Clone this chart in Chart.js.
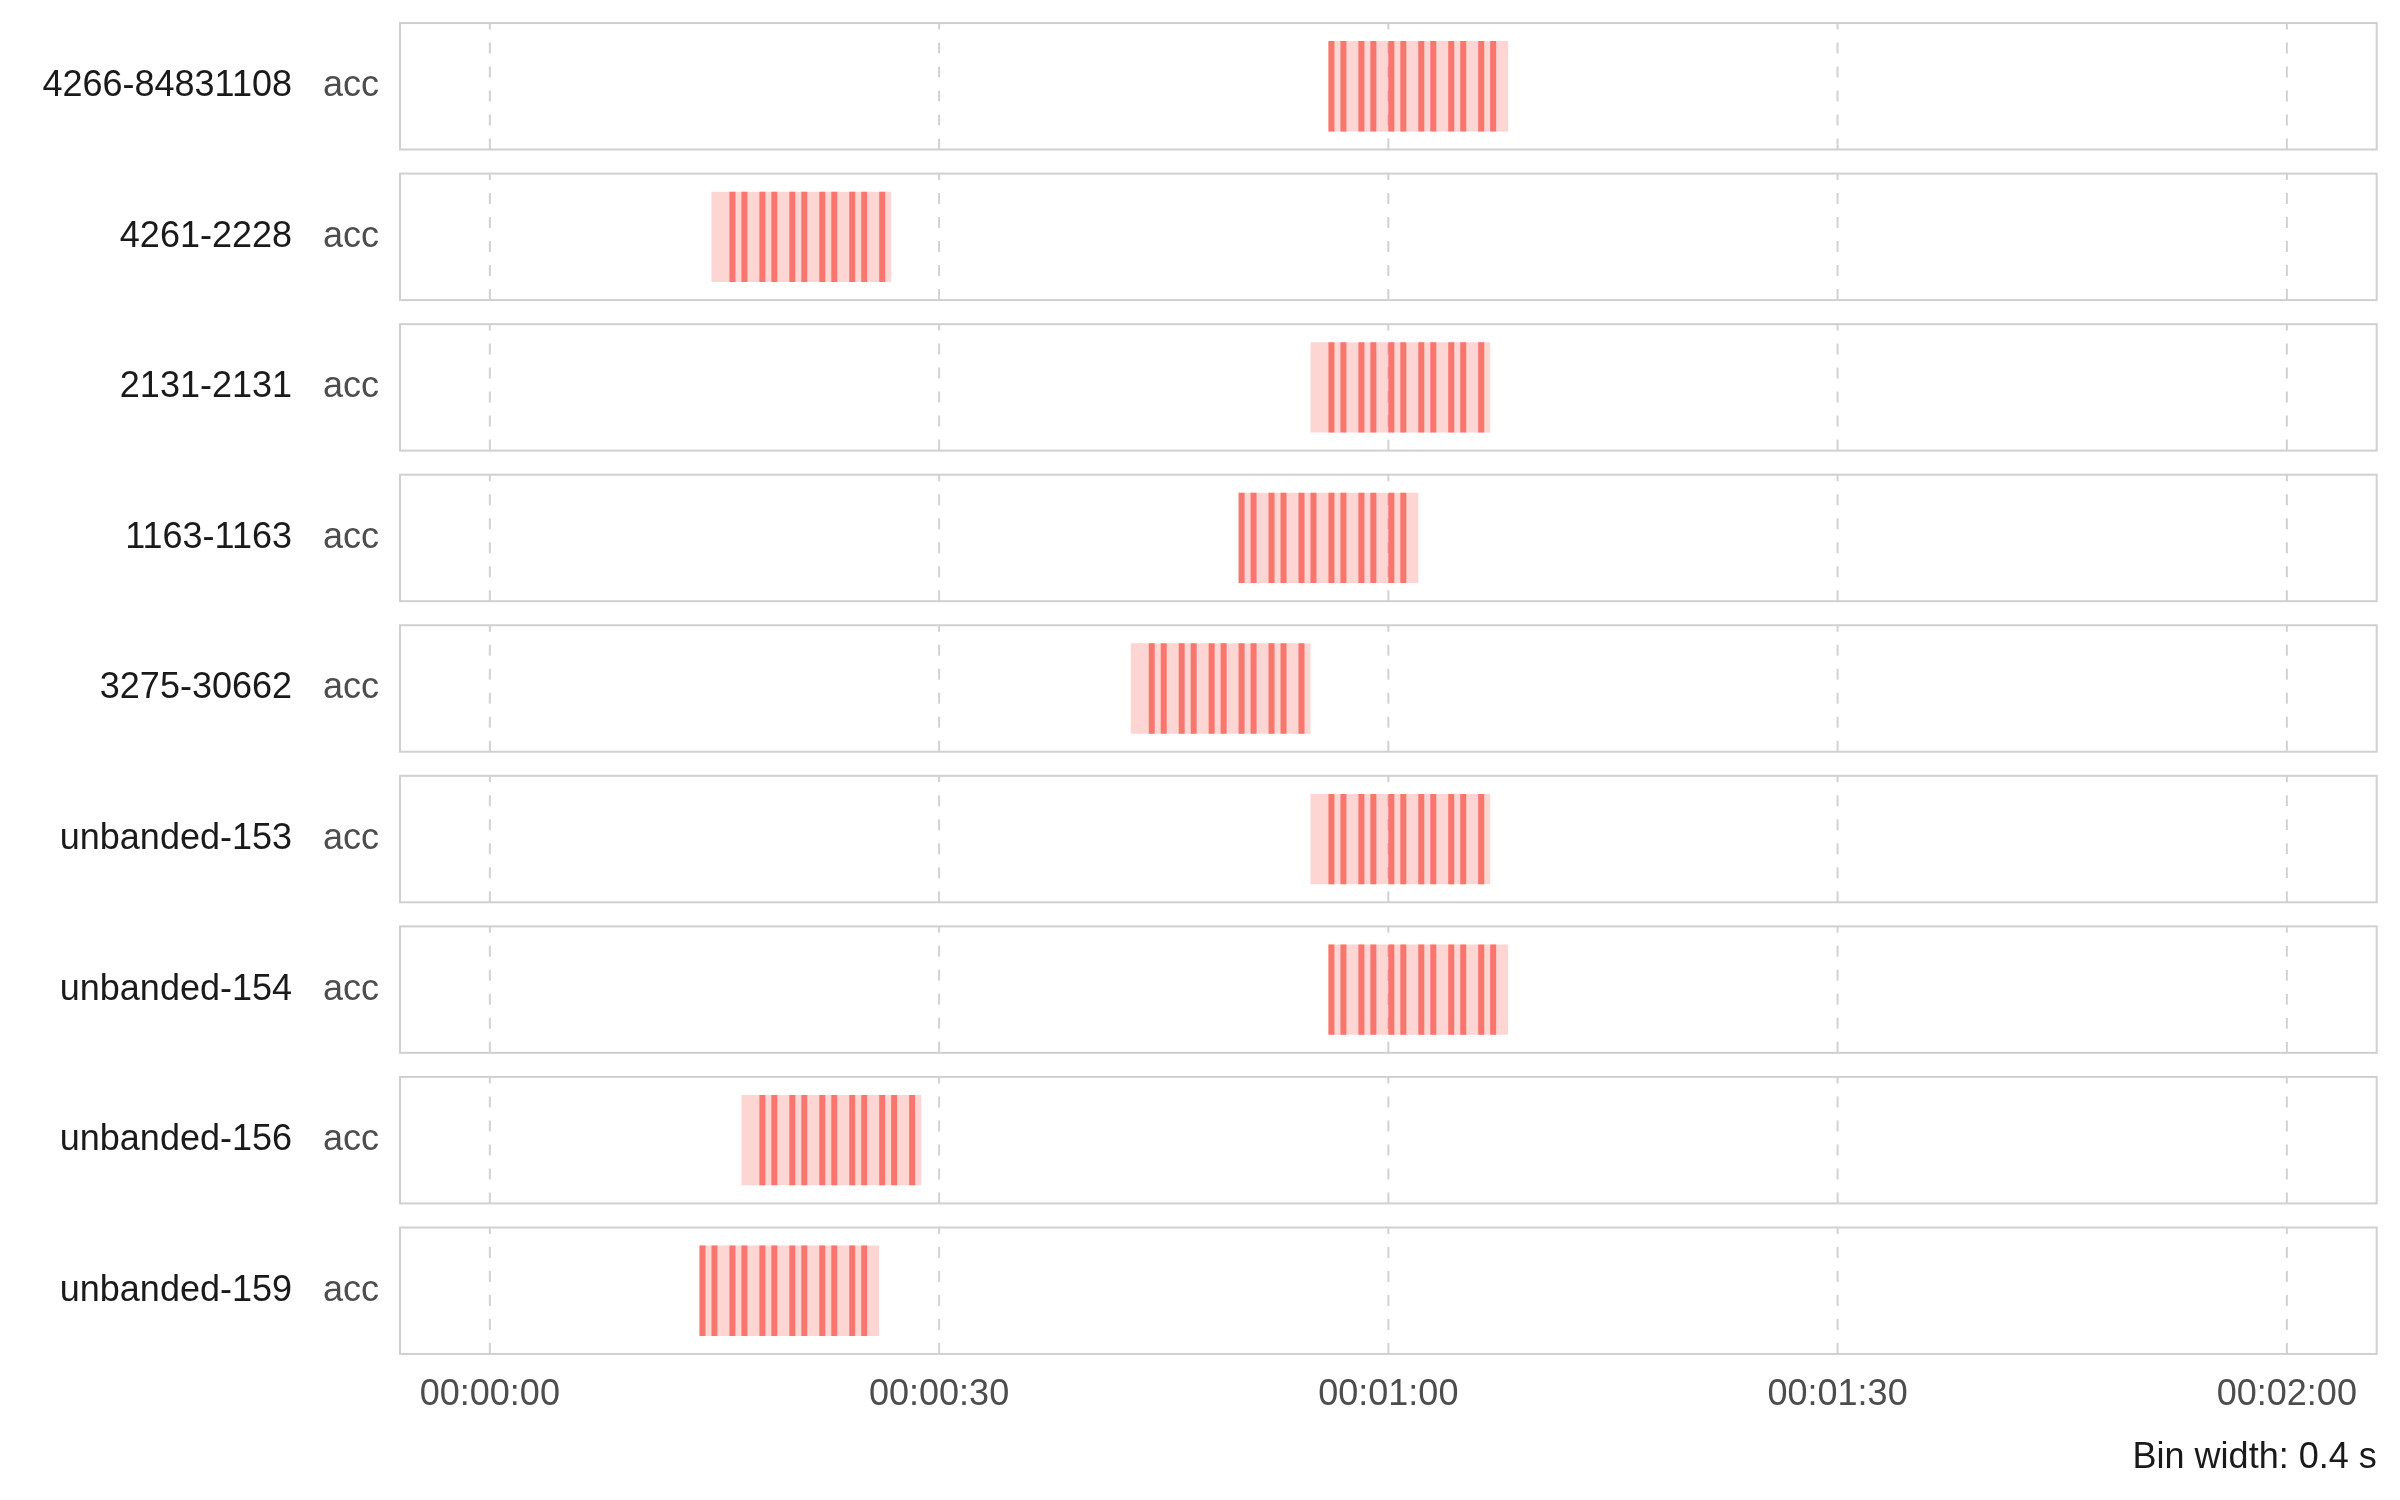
<!DOCTYPE html>
<html>
<head>
<meta charset="utf-8">
<script src="https://cdn.jsdelivr.net/npm/chart.js@4.4.1/dist/chart.umd.min.js"></script>
<style>
  body { margin: 0; background: #ffffff; }
  #wrap { width: 2400px; height: 1500px; }
</style>
</head>
<body>
<div id="wrap"><canvas id="chartBins"></canvas></div>
<script>
const rowIds = [
  '4266-84831108', '4261-2228', '2131-2131', '1163-1163', '3275-30662',
  'unbanded-153', 'unbanded-154', 'unbanded-156', 'unbanded-159'
];
const sensorLabels = ['acc', 'acc', 'acc', 'acc', 'acc', 'acc', 'acc', 'acc', 'acc'];

// recording window per row, seconds
const windowStart = [56.0, 14.8, 54.8, 50.0, 42.8, 54.8, 56.0, 16.8, 14.0];
const windowEnd = [68.0, 26.8, 66.8, 62.0, 54.8, 66.8, 68.0, 28.8, 26.0];

// start of the dense bins per row, seconds
const denseBins = [
  [56.0, 56.8, 58.0, 58.8, 60.0, 60.8, 62.0, 62.8, 64.0, 64.8, 66.0, 66.8],
  [16.0, 16.8, 18.0, 18.8, 20.0, 20.8, 22.0, 22.8, 24.0, 24.8, 26.0],
  [56.0, 56.8, 58.0, 58.8, 60.0, 60.8, 62.0, 62.8, 64.0, 64.8, 66.0],
  [50.0, 50.8, 52.0, 52.8, 54.0, 54.8, 56.0, 56.8, 58.0, 58.8, 60.0, 60.8],
  [44.0, 44.8, 46.0, 46.8, 48.0, 48.8, 50.0, 50.8, 52.0, 52.8, 54.0],
  [56.0, 56.8, 58.0, 58.8, 60.0, 60.8, 62.0, 62.8, 64.0, 64.8, 66.0],
  [56.0, 56.8, 58.0, 58.8, 60.0, 60.8, 62.0, 62.8, 64.0, 64.8, 66.0, 66.8],
  [18.0, 18.8, 20.0, 20.8, 22.0, 22.8, 24.0, 24.8, 26.0, 26.8, 28.0],
  [14.0, 14.8, 16.0, 16.8, 18.0, 18.8, 20.0, 20.8, 22.0, 22.8, 24.0, 24.8]
];
const binWidth = 0.4;

const tickSeconds = [0, 30, 60, 90, 120];
const tickLabels = ['00:00:00', '00:00:30', '00:01:00', '00:01:30', '00:02:00'];
const caption = 'Bin width: 0.4 s';

const FONT = '"Liberation Sans", Arial, Helvetica, sans-serif';

const windowData = rowIds.map((id, i) => ({ y: id, x: [windowStart[i], windowEnd[i]] }));
const binData = [];
rowIds.forEach((id, i) => {
  denseBins[i].forEach((t) => binData.push({ y: id, x: [t, t + binWidth] }));
});

// panel boxes and dashed grid lines, only inside each panel
function panelBounds(chart, i) {
  const yScale = chart.scales.y;
  const band = (yScale.bottom - yScale.top) / rowIds.length;
  const c = yScale.getPixelForValue(i);
  return { top: c - band * 0.42, bottom: c + band * 0.42 };
}

const panelPlugin = {
  id: 'panels',
  beforeDatasetsDraw(chart) {
    const ctx = chart.ctx;
    const xScale = chart.scales.x;
    ctx.save();
    ctx.strokeStyle = '#d2d2d2';
    ctx.lineWidth = 2;
    ctx.setLineDash([11, 13]);
    rowIds.forEach((id, i) => {
      const p = panelBounds(chart, i);
      tickSeconds.forEach((v) => {
        const x = xScale.getPixelForValue(v);
        ctx.beginPath();
        ctx.moveTo(x, p.bottom);
        ctx.lineTo(x, p.top);
        ctx.stroke();
      });
    });
    ctx.restore();
  },
  afterDatasetsDraw(chart) {
    const ctx = chart.ctx;
    const area = chart.chartArea;
    ctx.save();
    ctx.strokeStyle = '#d0d0d0';
    ctx.lineWidth = 2;
    rowIds.forEach((id, i) => {
      const p = panelBounds(chart, i);
      ctx.strokeRect(area.left, p.top, area.right - area.left, p.bottom - p.top);
    });
    // outer strip labels
    ctx.fillStyle = '#1a1a1a';
    ctx.font = '36px ' + FONT;
    ctx.textAlign = 'right';
    ctx.textBaseline = 'middle';
    rowIds.forEach((id, i) => {
      ctx.fillText(id, 292, chart.scales.y.getPixelForValue(i));
    });
    ctx.restore();
  }
};

const configBins = {
  type: 'bar',
  data: {
    labels: rowIds,
    datasets: [
      {
        label: 'window',
        data: windowData,
        backgroundColor: 'rgba(248, 118, 109, 0.3)',
        borderWidth: 0,
        grouped: false,
        categoryPercentage: 0.6,
        barPercentage: 1,
        order: 2
      },
      {
        label: 'bins',
        data: binData,
        backgroundColor: 'rgb(248, 118, 109)',
        borderWidth: 0,
        grouped: false,
        categoryPercentage: 0.6,
        barPercentage: 1,
        order: 1
      }
    ]
  },
  options: {
    indexAxis: 'y',
    responsive: true,
    maintainAspectRatio: false,
    animation: false,
    devicePixelRatio: 1,
    layout: { padding: { top: 11, right: 23.3, bottom: 20.6, left: 0 } },
    plugins: {
      legend: { display: false },
      tooltip: { enabled: false },
      title: {
        display: true,
        text: caption,
        position: 'bottom',
        align: 'end',
        color: '#1a1a1a',
        font: { family: FONT, size: 36, weight: 'normal', lineHeight: 1.2 },
        padding: { top: 13, bottom: 0 }
      }
    },
    scales: {
      x: {
        type: 'linear',
        min: -6,
        max: 126,
        afterBuildTicks: (scale) => {
          scale.ticks = tickSeconds.map((v) => ({ value: v }));
        },
        ticks: {
          color: '#4d4d4d',
          font: { family: FONT, size: 36 },
          padding: 7,
          maxRotation: 0,
          autoSkip: false,
          callback: (value) => tickLabels[tickSeconds.indexOf(value)]
        },
        grid: { display: false, drawTicks: false },
        border: { display: false }
      },
      y: {
        type: 'category',
        offset: true,
        afterFit: (scale) => {
          scale.width = 400;
          scale.paddingTop = 0;
          scale.paddingBottom = 0;
        },
        ticks: {
          color: '#4d4d4d',
          font: { family: FONT, size: 36 },
          padding: 21,
          callback: (value, index) => sensorLabels[index]
        },
        grid: { display: false, drawTicks: false },
        border: { display: false }
      }
    }
  },
  plugins: [panelPlugin]
};

var chartBins = new Chart(document.getElementById('chartBins'), configBins);
</script>
</body>
</html>
